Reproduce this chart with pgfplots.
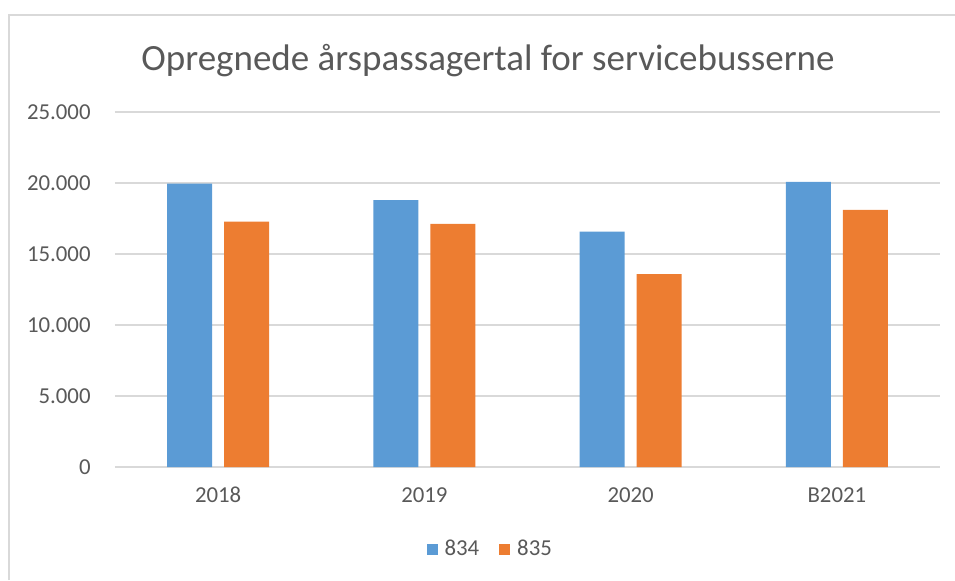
\documentclass[border=0pt]{standalone}
\usepackage{pgfplots}
\pgfplotsset{compat=1.18}
\usepackage{fontspec}
\setmainfont{Carlito}
\definecolor{cblue}{HTML}{5B9BD5}
\definecolor{corange}{HTML}{ED7D31}
\definecolor{ctext}{HTML}{595959}
\definecolor{cgrid}{HTML}{D9D9D9}
\begin{document}
\begin{tikzpicture}
\useasboundingbox (0,0) rectangle (477.5pt,290pt);
\draw[cgrid, line width=1.2pt] (4.5pt,0pt) -- (4.5pt,282.5pt) -- (477.5pt,282.5pt);
\node[text=ctext, font=\fontsize{18.5}{22}\selectfont] at (244pt,259.5pt) {Opregnede årspassagertal for servicebusserne};
\begin{axis}[
  at={(57.5pt,56.5pt)}, anchor=south west,
  scale only axis, width=412.5pt, height=177.5pt,
  xmin=-0.5, xmax=3.5, ymin=0, ymax=25000,
  ybar, bar width=22.5pt,
  xtick={0,1,2,3}, xticklabels={2018,2019,2020,B2021},
  ytick={0,5000,10000,15000,20000,25000},
  scaled y ticks=false,
  /pgf/number format/.cd, 1000 sep={.}, assume math mode=true, /pgfplots/.cd,
  major tick length=0pt,
  axis line style={draw=none},
  ymajorgrids, grid style={cgrid, line width=0.6pt},
  tick label style={text=ctext, font=\fontsize{11.4}{13}\selectfont},
  yticklabel style={inner sep=0pt, anchor=east, xshift=-12pt},
  xticklabel style={inner sep=0pt, anchor=north, yshift=-10pt},
  legend columns=2,
  legend style={draw=none, at={(0.456,-0.231)}, anchor=center, text=ctext, font=\fontsize{11.4}{13}\selectfont,
    /tikz/every odd column/.append style={column sep=1.5pt},
    /tikz/every even column/.append style={column sep=8pt}},
  legend image code/.code={\fill[#1] (0pt,-2.75pt) rectangle (5.5pt,2.75pt);},
]
\addplot[fill=cblue, draw=none, bar shift=-14.25pt] coordinates {(0,19950) (1,18800) (2,16570) (3,20080)};
\addplot[fill=corange, draw=none, bar shift=14.25pt] coordinates {(0,17280) (1,17120) (2,13590) (3,18100)};
\legend{834,835}
\end{axis}
\end{tikzpicture}
\end{document}
